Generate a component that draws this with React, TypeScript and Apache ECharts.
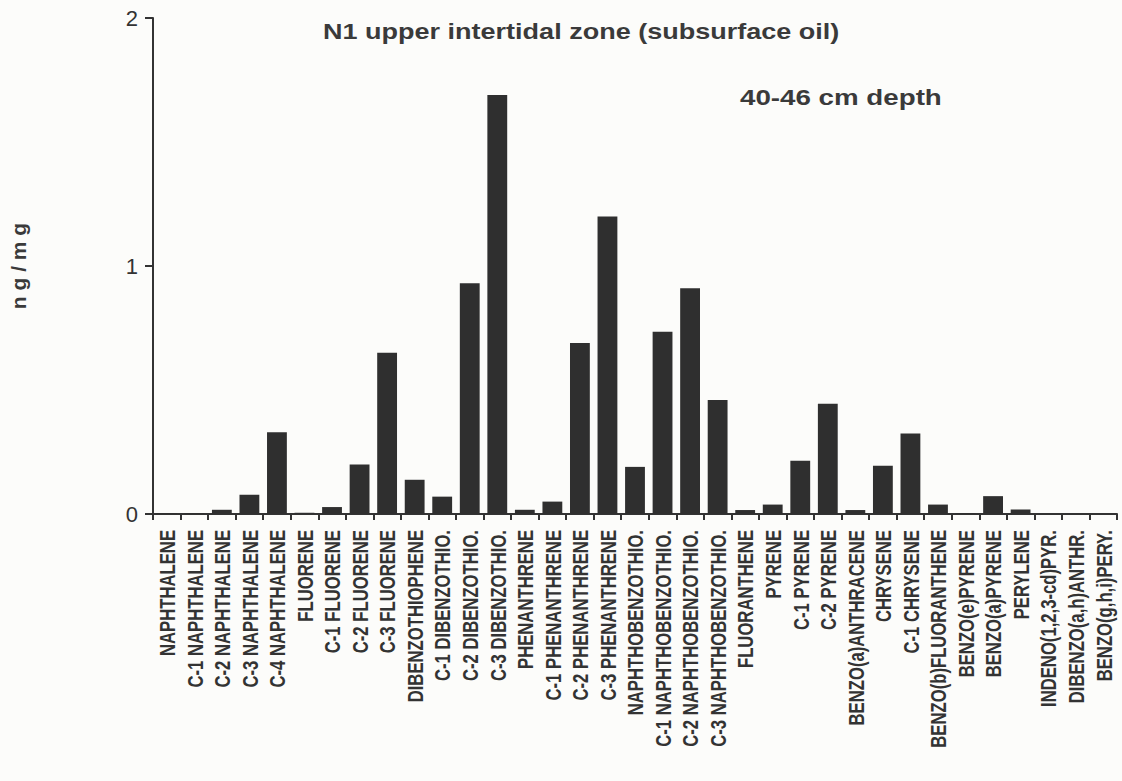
import React, { useEffect, useRef } from "react";
import * as echarts from "echarts";

const categories = [
  "NAPHTHALENE", "C-1 NAPHTHALENE", "C-2 NAPHTHALENE", "C-3 NAPHTHALENE", "C-4 NAPHTHALENE",
  "FLUORENE", "C-1 FLUORENE", "C-2 FLUORENE", "C-3 FLUORENE", "DIBENZOTHIOPHENE",
  "C-1 DIBENZOTHIO.", "C-2 DIBENZOTHIO.", "C-3 DIBENZOTHIO.", "PHENANTHRENE",
  "C-1 PHENANTHRENE", "C-2 PHENANTHRENE", "C-3 PHENANTHRENE", "NAPHTHOBENZOTHIO.",
  "C-1 NAPHTHOBENZOTHIO.", "C-2 NAPHTHOBENZOTHIO.", "C-3 NAPHTHOBENZOTHIO.", "FLUORANTHENE",
  "PYRENE", "C-1 PYRENE", "C-2 PYRENE", "BENZO(a)ANTHRACENE", "CHRYSENE", "C-1 CHRYSENE",
  "BENZO(b)FLUORANTHENE", "BENZO(e)PYRENE", "BENZO(a)PYRENE", "PERYLENE",
  "INDENO(1,2,3-cd)PYR.", "DIBENZO(a,h)ANTHR.", "BENZO(g,h,i)PERY.",
];

const values = [
  0.004, 0.004, 0.017, 0.078, 0.33,
  0.005, 0.028, 0.2, 0.65, 0.138,
  0.07, 0.93, 1.69, 0.017,
  0.05, 0.69, 1.2, 0.19,
  0.735, 0.91, 0.46, 0.016,
  0.038, 0.215, 0.445, 0.016, 0.195, 0.325,
  0.038, 0.003, 0.072, 0.018,
  0, 0, 0,
];

const yTicks = [0, 1, 2];
const title = "N1 upper intertidal zone (subsurface oil)";
const subtitle = "40-46 cm depth";
const yName = "n g / m g";

const FONT = "'Liberation Sans', Arial, Helvetica, sans-serif";

function measure(text: string, font: string): number {
  const c = document.createElement("canvas");
  const ctx = c.getContext("2d");
  if (!ctx) return text.length * 10;
  ctx.font = font;
  return ctx.measureText(text).width;
}

export default function App() {
  const ref = useRef<HTMLDivElement>(null);
  useEffect(() => {
    if (!ref.current) return;
    const chart = echarts.init(ref.current, null, { renderer: "svg" });
    chart.setOption({
      animation: false,
      backgroundColor: "#fcfcfa",
      grid: { left: 149, right: 5, top: 18, bottom: 267, containLabel: false },
      xAxis: {
        type: "category",
        data: categories,
        boundaryGap: true,
        axisLine: { show: true, lineStyle: { color: "#333", width: 2 } },
        axisTick: {
          show: true,
          interval: 0,
          alignWithLabel: false,
          length: 6,
          lineStyle: { color: "#333", width: 2 },
        },
        axisLabel: { show: false, interval: 0 },
      },
      yAxis: {
        type: "value",
        min: yTicks[0],
        max: yTicks[yTicks.length - 1],
        interval: 1,
        name: yName,
        nameLocation: "middle",
        nameRotate: 90,
        nameGap: 124,
        nameTextStyle: { fontFamily: FONT, fontWeight: "bold", fontSize: 21, color: "#3a3a3a" },
        splitLine: { show: false },
        axisLine: { show: true, lineStyle: { color: "#333", width: 2 } },
        axisTick: { show: true, inside: false, length: 8, lineStyle: { color: "#333", width: 2 } },
        axisLabel: { fontFamily: FONT, fontSize: 22, color: "#333", margin: 15 },
      },
      series: [
        {
          type: "bar",
          data: values,
          barCategoryGap: "28%",
          itemStyle: { color: "#2f2f2f" },
        },
      ],
    });

    // Text elements: scanned original has horizontally stretched, condensed lettering.
    const labelFontSize = 16;
    const labelFont = `bold ${labelFontSize}px 'Liberation Sans'`;
    const refW = measure("C-1 NAPHTHOBENZOTHIO.", labelFont);
    const along = 217 / refW;
    const across = 15.5 / (0.716 * labelFontSize);
    const labelTop = chart.convertToPixel({ yAxisIndex: 0 }, 0) + 16;
    const labels = categories.map((c, i) => {
      const px = chart.convertToPixel({ xAxisIndex: 0 }, i);
      return {
        type: "text",
        x: px + 1,
        y: labelTop,
        rotation: Math.PI / 2,
        scaleX: along,
        scaleY: across,
        style: {
          text: c,
          font: labelFont,
          fill: "#333",
          align: "right",
          verticalAlign: "middle",
        },
      };
    });

    const titleFontSize = 22;
    const titleFont = `bold ${titleFontSize}px 'Liberation Sans'`;
    const titleScale = (840 - 323) / measure(title, titleFont);
    const subScale = (942 - 740) / measure(subtitle, titleFont);

    chart.setOption({
      graphic: [
        ...labels,
        {
          type: "text",
          x: 323,
          y: 31,
          scaleX: titleScale,
          style: { text: title, font: titleFont, fill: "#3a3a3a", align: "left", verticalAlign: "middle" },
        },
        {
          type: "text",
          x: 740,
          y: 97,
          scaleX: subScale,
          style: { text: subtitle, font: titleFont, fill: "#3a3a3a", align: "left", verticalAlign: "middle" },
        },
      ],
    });
    return () => chart.dispose();
  }, []);
  return (
    <div
      ref={ref}
      style={{ position: "absolute", left: 0, top: 0, width: 1122, height: 781 }}
    />
  );
}
